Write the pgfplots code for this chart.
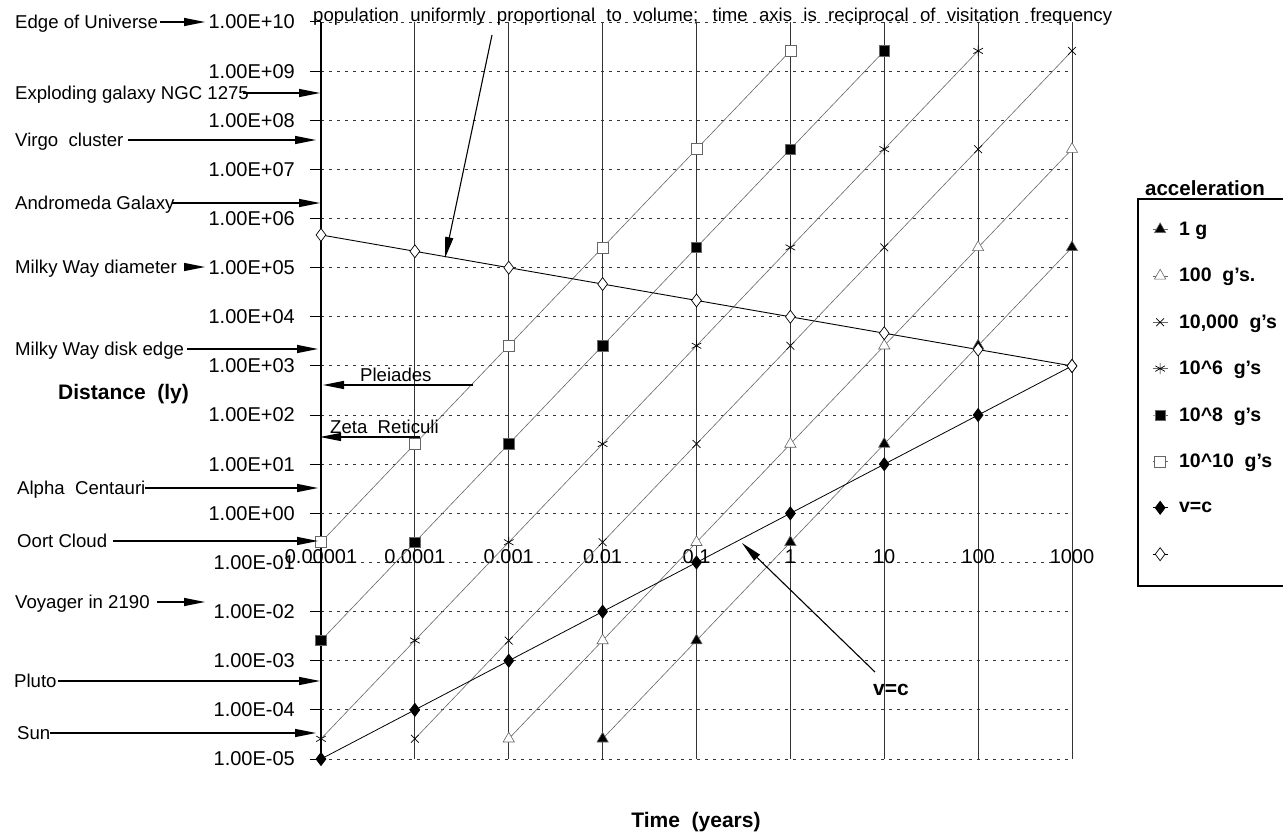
\documentclass[border=0pt]{standalone}
\usepackage{pgfplots}
\pgfplotsset{compat=1.18}
\usepackage{fontspec}
\setmainfont{Liberation Sans}
\usetikzlibrary{arrows.meta}

\newcommand\fa{\fontsize{18.6bp}{21bp}\selectfont}
\newcommand\ft{\fontsize{20bp}{23bp}\selectfont}
\newcommand\fb{\fontsize{21bp}{24bp}\selectfont\bfseries}

\begin{document}
\begin{tikzpicture}[
  arr/.style={line width=1.1bp,-{Triangle[length=21bp,width=8bp]}},
  t/.style={anchor=base west,inner sep=0pt,font=\fa,yshift=-6.6bp},
  acc/.style={black!60,line width=0.6bp,mark options={solid,black,line width=0.7bp}}]
\useasboundingbox (0bp,0bp) rectangle (1283bp,-834bp);
\begin{axis}[
  at={(321bp,-759bp)}, anchor=south west,
  scale only axis, width=751bp, height=737bp,
  xmode=log, ymode=log,
  xmin=1e-5, xmax=1e3, ymin=1e-5, ymax=1e10,
  axis y line*=left, axis x line*=bottom,
  x axis line style={draw=none},
  y axis line style={-,line width=1.2bp},
  tick align=outside, major tick length=11bp,
  xminorticks=false, yminorticks=false,
  ytick={1e-5,1e-4,1e-3,1e-2,1e-1,1,1e1,1e2,1e3,1e4,1e5,1e6,1e7,1e8,1e9,1e10},
  yticklabels={1.00E-05,1.00E-04,1.00E-03,1.00E-02,1.00E-01,1.00E+00,1.00E+01,1.00E+02,1.00E+03,1.00E+04,1.00E+05,1.00E+06,1.00E+07,1.00E+08,1.00E+09,1.00E+10},
  xtick={1e-5,1e-4,1e-3,1e-2,1e-1,1,1e1,1e2,1e3},
  xticklabels={0.00001,0.0001,0.001,0.01,0.1,1,10,100,1000},
  major x tick style={draw=none},
  major y tick style={line width=1bp,black},
  yticklabel style={font=\ft,inner sep=0pt,xshift=-15bp},
  xticklabel style={font=\ft,anchor=center,inner sep=0pt,yshift=213bp},
  grid=major,
  major x grid style={solid,black!80,line width=0.9bp},
  major y grid style={black!80,line width=0.9bp,dash pattern=on 3bp off 5bp},
  extra y ticks={1}, extra y tick labels={},
  extra y tick style={grid=major,major grid style={solid,black!85,line width=0.9bp}},
  legend style={at={(1.08788,0.75984)},anchor=north west,draw=none,fill=none,
    font=\fontsize{19.5bp}{22bp}\selectfont\bfseries,inner xsep=14bp,inner ysep=7bp,row sep=0pt,column sep=11bp,
    nodes={inner sep=0pt,minimum height=46.4bp}},
  legend cell align=left,
  legend image code/.code={\draw[mark repeat=2,mark phase=2,#1] plot coordinates {(0bp,0bp) (7.5bp,0bp) (15bp,0bp)};},
]
% 1 g
\addplot[acc,mark=triangle*,mark size=6.5bp,mark options={fill=black}] coordinates {
  (0.01,2.58e-5) (0.1,2.58e-3) (1,0.258) (10,25.8) (100,2580) (1000,2.58e5)};
\addlegendentry{1 g}
% 100 g
\addplot[acc,mark=triangle*,mark size=6.5bp,mark options={fill=white}] coordinates {
  (0.001,2.58e-5) (0.01,2.58e-3) (0.1,0.258) (1,25.8) (10,2580) (100,2.58e5) (1000,2.58e7)};
\addlegendentry{100~ g's.}
% 10,000 g
\addplot[acc,mark=x,mark size=5.5bp] coordinates {
  (1e-4,2.58e-5) (1e-3,2.58e-3) (0.01,0.258) (0.1,25.8) (1,2580) (10,2.58e5) (100,2.58e7) (1000,2.58e9)};
\addlegendentry{10,000~ g's}
% 10^6 g
\addplot[acc,mark=asterisk,mark size=5.5bp] coordinates {
  (1e-5,2.58e-5) (1e-4,2.58e-3) (1e-3,0.258) (0.01,25.8) (0.1,2580) (1,2.58e5) (10,2.58e7) (100,2.58e9)};
\addlegendentry{10\textasciicircum 6~ g's}
% 10^8 g
\addplot[acc,mark=square*,mark size=5.2bp,mark options={fill=black}] coordinates {
  (1e-5,2.58e-3) (1e-4,0.258) (1e-3,25.8) (0.01,2580) (0.1,2.58e5) (1,2.58e7) (10,2.58e9)};
\addlegendentry{10\textasciicircum 8~ g's}
% 10^10 g
\addplot[acc,mark=square*,mark size=5.5bp,mark options={fill=white}] coordinates {
  (1e-5,0.258) (1e-4,25.8) (1e-3,2580) (0.01,2.58e5) (0.1,2.58e7) (1,2.58e9)};
\addlegendentry{10\textasciicircum 10~ g's}
% v=c
\addplot[black,line width=0.8bp,mark=diamond*,mark size=6.5bp,mark options={solid,fill=black}] coordinates {
  (1e-5,1e-5) (1e-4,1e-4) (1e-3,1e-3) (0.01,0.01) (0.1,0.1) (1,1) (10,10) (100,100) (1000,1000)};
\addlegendentry{v=c}
% population / visitation
\addplot[black,line width=0.9bp,mark=diamond*,mark size=6.5bp,mark options={solid,fill=white,line width=0.7bp}] coordinates {
  (1e-5,464159) (1e-4,215443) (1e-3,100000) (0.01,46416) (0.1,21544) (1,10000) (10,4642) (100,2154) (1000,1000)};
\addlegendentry{\mbox{}}
\end{axis}

\begin{scope}[x=1bp,y=-1bp]
% legend frame and title
\draw[line width=1.3bp] (1300,199) -- (1138,199) -- (1138,586) -- (1300,586);
\node[t,font=\fontsize{20.5bp}{23bp}\selectfont\bfseries] at (1145,189) {acceleration};

% top note
\node[t] at (313,15) {\makebox[799bp][s]{population uniformly proportional to volume; time axis is reciprocal of visitation frequency}};
\draw[arr] (492,35) -- (445,258);

% left annotations
\node[t] at (15,22) {Edge of Universe};
\draw[arr] (160,22) -- (205,22);
\node[t] at (15,93) {Exploding galaxy NGC 1275};
\draw[arr] (243,93) -- (320,93);
\node[t] at (15,140) {Virgo\ \ cluster};
\draw[arr] (128,140) -- (316,140);
\node[t] at (15,203) {Andromeda Galaxy};
\draw[arr] (172,203) -- (320,203);
\node[t] at (15,267) {Milky Way diameter};
\draw[arr] (185,267) -- (205,267);
\node[t] at (15,349) {Milky Way disk edge};
\draw[arr] (187,349) -- (318,349);
\node[t] at (17,488) {Alpha\ \ Centauri};
\draw[arr] (145,488) -- (318,488);
\node[t] at (17,541) {Oort Cloud};
\draw[arr] (113,541) -- (318,541);
\node[t] at (15,602) {Voyager in 2190};
\draw[arr] (157,602) -- (205,602);
\node[t] at (14,681) {Pluto};
\draw[arr] (58,681) -- (320,681);
\node[t] at (17,733) {Sun};
\draw[arr] (50,733) -- (316,733);

% in-plot annotations
\node[t] at (360,375) {Pleiades};
\draw[arr] (473,385) -- (323,385);
\node[t] at (330,427) {Zeta\ \ Reticuli};
\draw[arr] (420,437) -- (320,437);
\node[t,font=\fb,yshift=-0.8bp] at (873,688) {v=c};
\draw[arr] (875,672) -- (742,543);

% axis titles
\node[t,font=\fb,yshift=-0.8bp] at (58,392) {Distance\ \ (ly)};
\node[anchor=base,inner sep=0pt,font=\fb,yshift=-7.5bp] at (696,820) {Time\ \ (years)};
\end{scope}
\end{tikzpicture}
\end{document}
